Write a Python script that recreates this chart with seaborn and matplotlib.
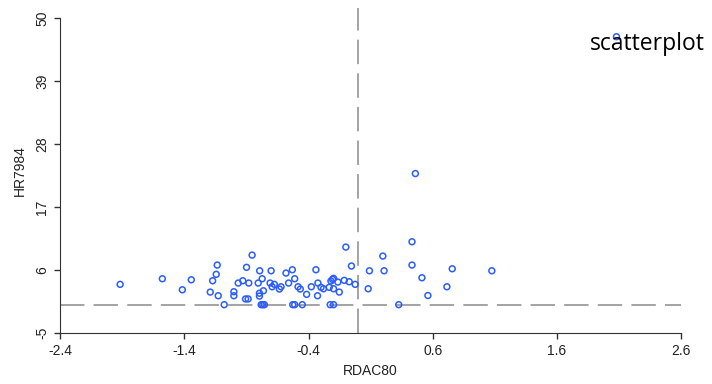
import matplotlib
matplotlib.use("Agg")
import matplotlib.pyplot as plt
import seaborn as sns
import pandas as pd

# values
rdac80 = [-1.918, -1.578, -1.417, -1.345, -1.192, -1.173, -1.144, -1.136, -1.128, -1.080,
          -1.002, -1.002, -0.967, -0.930, -0.900, -0.908, -0.887, -0.882, -0.855, -0.794,
          -0.806, -0.774, -0.796, -0.796, -0.764, -0.782, -0.769, -0.756, -0.702, -0.710,
          -0.694, -0.676, -0.635, -0.622, -0.582, -0.561, -0.531, -0.512, -0.528, -0.512,
          -0.485, -0.467, -0.451, -0.416, -0.378, -0.341, -0.328, -0.325, -0.300, -0.280,
          -0.234, -0.226, -0.199, -0.220, -0.207, -0.199, -0.199, -0.164, -0.153, -0.113,
          -0.100, -0.073, -0.055, -0.025, 0.080, 0.090, 0.198, 0.208, 0.326, 0.433,
          0.433, 0.513, 0.561, 0.714, 0.757, 1.076, 0.460, 2.080]
hr7984 = [3.55, 4.53, 2.60, 4.35, 2.20, 4.18, 5.30, 6.92, 1.56, 0.00,
          2.26, 1.56, 3.78, 4.18, 6.52, 1.00, 1.00, 3.78, 8.66, 5.92,
          3.78, 4.53, 2.00, 1.50, 2.43, 0.00, 0.00, 0.00, 5.92, 3.78,
          3.13, 3.55, 2.73, 3.13, 5.52, 3.78, 6.10, 4.53, 0.00, 0.00,
          3.13, 2.73, 0.00, 1.80, 3.13, 6.10, 1.56, 3.78, 3.03, 2.78,
          3.03, 0.00, 0.00, 4.13, 4.42, 4.60, 2.78, 3.95, 2.20, 4.25,
          10.06, 4.00, 6.75, 3.55, 2.78, 5.92, 8.49, 5.92, 0.00, 10.99,
          6.92, 4.70, 1.60, 3.13, 6.27, 5.92, 22.90, 46.80]

x_ticks = [-2.4, -1.4, -0.4, 0.6, 1.6, 2.6]
y_ticks = [-5, 6, 17, 28, 39, 50]

df = pd.DataFrame({"RDAC80": rdac80, "HR7984": hr7984})

sns.set_style("ticks")
plt.rcParams["font.family"] = ["Liberation Sans", "DejaVu Sans"]

fig = plt.figure(figsize=(7.12, 3.84), dpi=100)
ax = fig.add_axes([0.0847, 0.132, 0.8718, 0.847])

ax.axhline(0, color="#8a8a8a", lw=1.1, dashes=(16, 6), zorder=1)
ax.axvline(0, color="#8a8a8a", lw=1.1, dashes=(16, 6), zorder=1)

sns.scatterplot(data=df, x="RDAC80", y="HR7984", ax=ax, marker="o",
                facecolor="none", edgecolor="#2a5cff", linewidth=1.1, s=18, zorder=3)

ax.set_xlim(-2.4, 2.6)
ax.set_ylim(-5, 51.8)
ax.set_xticks(x_ticks)
ax.set_xticklabels([f"{v:.1f}" for v in x_ticks])
ax.set_yticks(y_ticks)
ax.set_yticklabels([str(v) for v in y_ticks], rotation=90, va="center")

for side in ["top", "right"]:
    ax.spines[side].set_visible(False)
ax.spines["left"].set_bounds(-5, 50)
ax.spines["left"].set_color("#333333")
ax.spines["bottom"].set_color("#333333")
ax.tick_params(length=4, width=1, color="#333333", labelsize=10, labelcolor="#222222", pad=4)

ax.set_xlabel("RDAC80", fontsize=10, color="#222222", labelpad=4)
ax.set_ylabel("HR7984", fontsize=10, color="#222222", labelpad=6)

fig.text(0.829, 0.885, "scatterplot", fontsize=16.5, family=["Open Sans", "DejaVu Sans"],
         va="center", ha="left", color="black")

fig.savefig("out.png", dpi=100)
